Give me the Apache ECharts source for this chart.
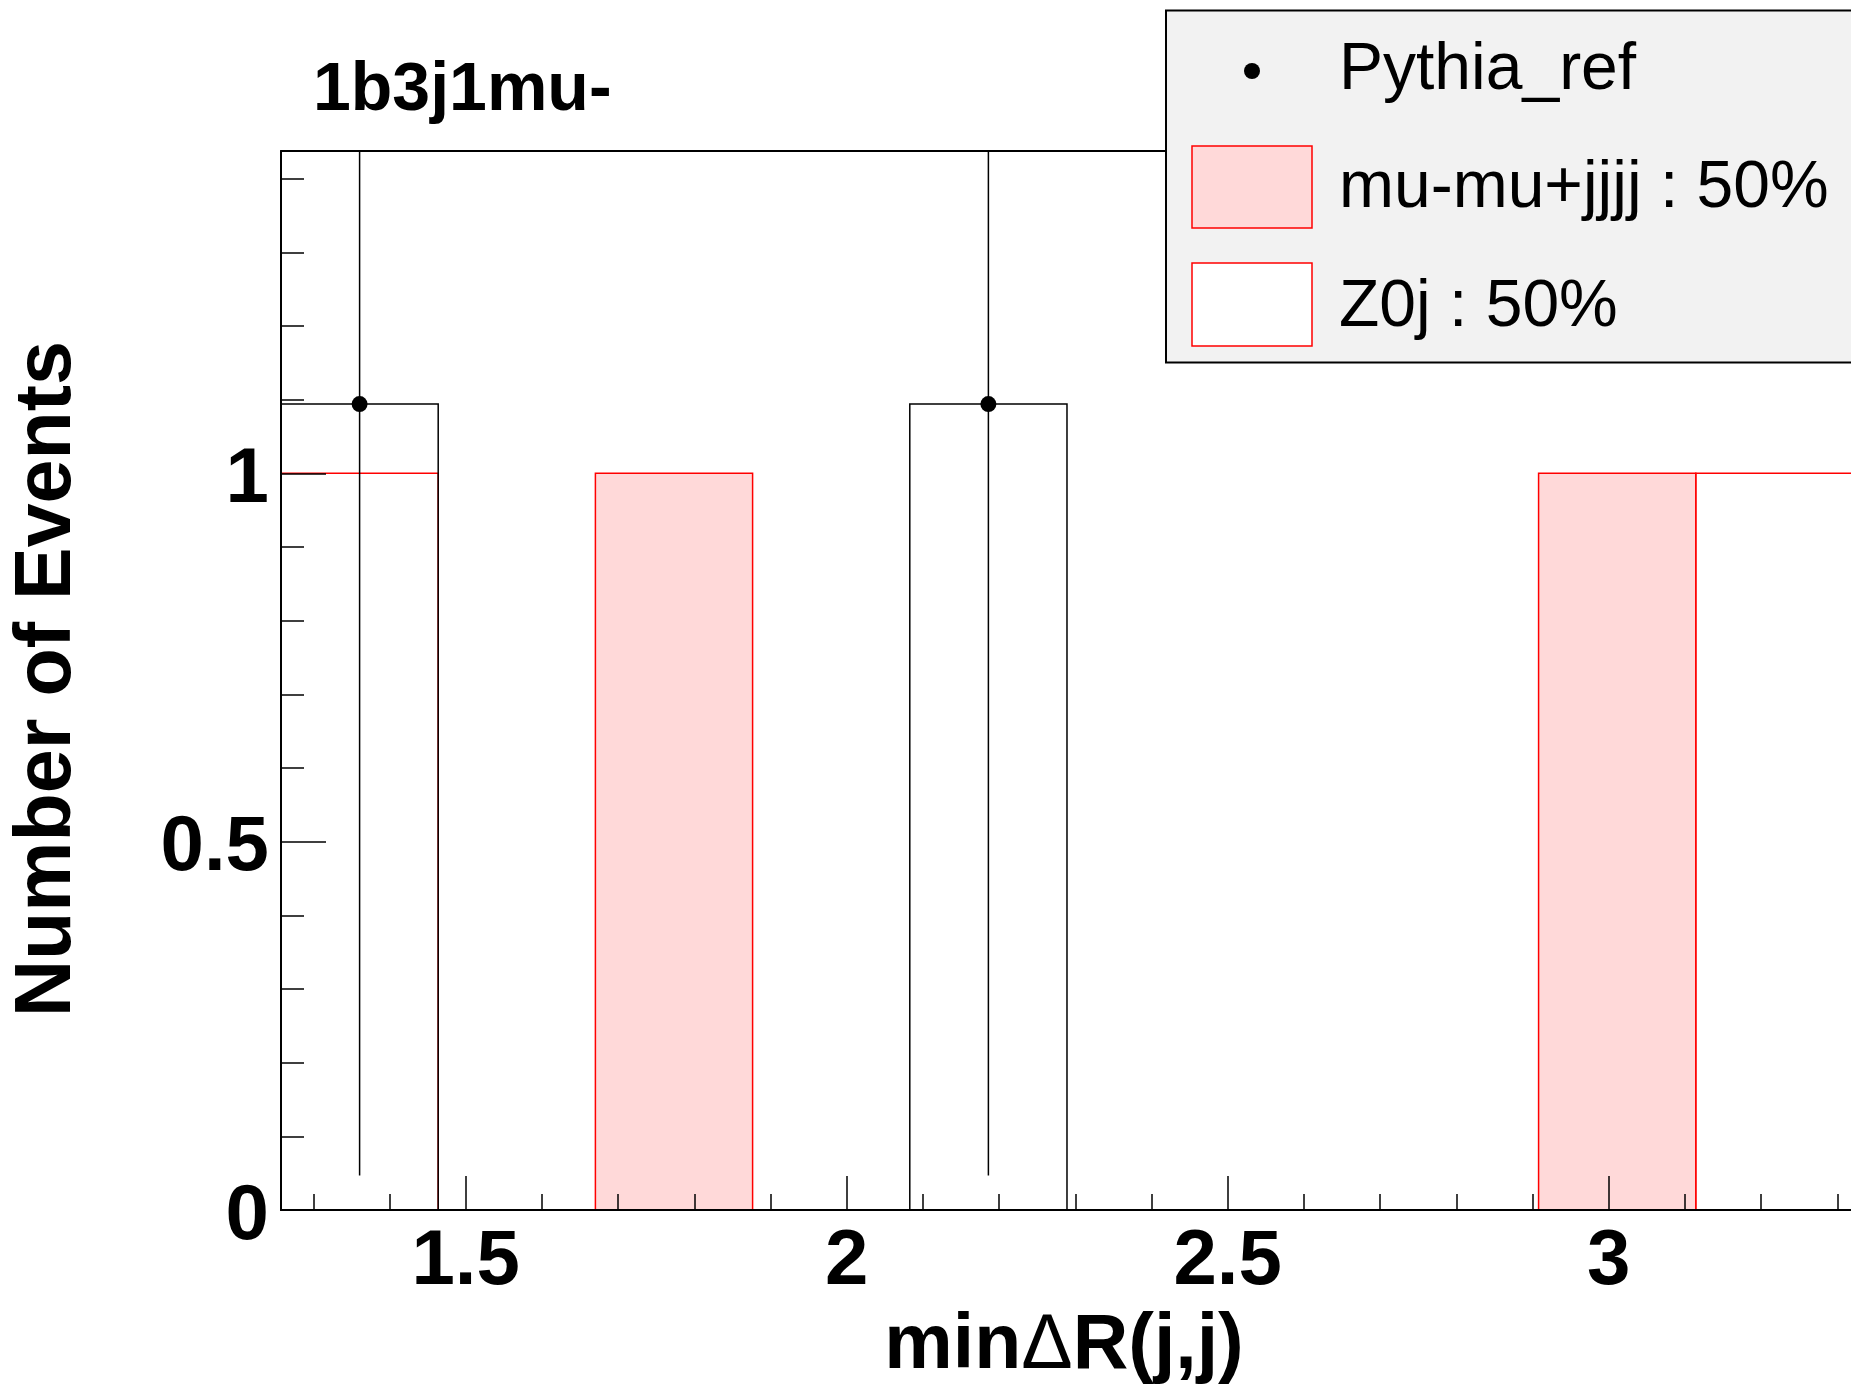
<!DOCTYPE html>
<html>
<head>
<meta charset="utf-8">
<script src="https://cdn.jsdelivr.net/npm/echarts@6/dist/echarts.min.js"></script>
<style>
html,body{margin:0;padding:0;background:#fff;}
#chart{width:1851px;height:1397px;}
</style>
</head>
<body>
<div id="chart"></div>
<script>
// ---- data ----
const chartTitle = '1b3j1mu-';
const xTitle = 'minΔR(j,j)';
const yTitle = 'Number of Events';
const binLow = 1.2576;
const binWidth = 0.2063;
const seriesNames = ['Pythia_ref', 'mu-mu+jjjj : 50%', 'Z0j : 50%'];
const pythiaRef = [1.094, 0, 0, 0, 1.094, 0, 0, 0, 0, 0];
const pythiaErr = [1.047, 0, 0, 0, 1.047, 0, 0, 0, 0, 0];
const muMuJjjj  = [0, 0, 1, 0, 0, 0, 0, 0, 1, 0];
const z0j       = [1, 0, 0, 0, 0, 0, 0, 0, 0, 1];
const xMajorTicks = [1.5, 2, 2.5, 3];
const xMinorTicks = [1.3, 1.4, 1.6, 1.7, 1.8, 1.9, 2.1, 2.2, 2.3, 2.4, 2.6, 2.7, 2.8, 2.9, 3.1, 3.2, 3.3];
const yMajorTicks = [0, 0.5, 1];
const yMinorTicks = [0.1, 0.2, 0.3, 0.4, 0.6, 0.7, 0.8, 0.9, 1.1, 1.2, 1.3, 1.4];
const xMin = 1.2576, xMax = 3.3180;
const yMin = 0, yMax = 1.4375;

// ---- build ----
const FONT = '"Liberation Sans", Arial, Helvetica, sans-serif';
function binData(vals, errs) {
  return vals.map((v, i) => [binLow + i * binWidth, binLow + (i + 1) * binWidth, v, errs ? errs[i] : 0]);
}

function histRender(fill, stroke, lw) {
  return function (params, api) {
    const lo = api.value(0), hi = api.value(1), v = api.value(2);
    if (!v) return null;
    const p0 = api.coord([lo, 0]);
    const p1 = api.coord([hi, v]);
    return {
      type: 'rect',
      shape: { x: p0[0], y: p1[1], width: p1[0] - p0[0], height: p0[1] - p1[1] },
      style: { fill: fill, stroke: stroke, lineWidth: lw }
    };
  };
}

function pointRender(params, api) {
  const lo = api.value(0), hi = api.value(1), v = api.value(2), e = api.value(3);
  if (!v) return null;
  const c = (lo + hi) / 2;
  const top = api.coord([c, v + e]);
  const bot = api.coord([c, Math.max(v - e, 0)]);
  const mid = api.coord([c, v]);
  const cs = params.coordSys;
  const yTop = Math.max(top[1], cs.y);
  return {
    type: 'group',
    children: [
      { type: 'line', shape: { x1: mid[0], y1: yTop, x2: mid[0], y2: bot[1] }, style: { stroke: '#000', lineWidth: 1.5 } },
      { type: 'circle', shape: { cx: mid[0], cy: mid[1], r: 8 }, style: { fill: '#000' } }
    ]
  };
}

const chart = echarts.init(document.getElementById('chart'), null, { renderer: 'canvas', width: 1851, height: 1397 });

const axisBase = { type: 'value', min: xMin, max: xMax, splitLine: { show: false } };
const yBase = { type: 'value', min: yMin, max: yMax, splitLine: { show: false } };

const option = {
  animation: false,
  backgroundColor: '#fff',
  grid: { left: 281, top: 151, right: 0, bottom: 187, show: false, containLabel: false },
  xAxis: [
    Object.assign({}, axisBase, {
      position: 'bottom', z: 5,
      axisLine: { show: true, onZero: false, lineStyle: { color: '#000', width: 2 } },
      axisTick: { show: true, inside: true, length: 34, customValues: xMajorTicks, lineStyle: { color: '#000', width: 1.5 } },
      axisLabel: { show: true, customValues: xMajorTicks, margin: 13, fontSize: 78, fontWeight: 'bold', fontFamily: FONT, color: '#000', lineHeight: 78 }
    }),
    Object.assign({}, axisBase, {
      position: 'bottom', z: 5,
      axisLine: { show: false, onZero: false },
      axisTick: { show: true, inside: true, length: 16, customValues: xMinorTicks, lineStyle: { color: '#000', width: 1.5 } },
      axisLabel: { show: false }
    }),
    Object.assign({}, axisBase, {
      position: 'top', z: 5,
      axisLine: { show: true, onZero: false, lineStyle: { color: '#000', width: 2 } },
      axisTick: { show: false },
      axisLabel: { show: false }
    })
  ],
  yAxis: [
    Object.assign({}, yBase, {
      position: 'left', z: 5,
      axisLine: { show: true, onZero: false, lineStyle: { color: '#000', width: 2 } },
      axisTick: { show: true, inside: true, length: 45, customValues: yMajorTicks, lineStyle: { color: '#000', width: 1.5 } },
      axisLabel: { show: true, customValues: yMajorTicks, margin: 12, fontSize: 78, fontWeight: 'bold', fontFamily: FONT, color: '#000', verticalAlign: 'top', lineHeight: 14 }
    }),
    Object.assign({}, yBase, {
      position: 'left', z: 5,
      axisLine: { show: false, onZero: false },
      axisTick: { show: true, inside: true, length: 23, customValues: yMinorTicks, lineStyle: { color: '#000', width: 1.5 } },
      axisLabel: { show: false }
    })
  ],
  series: [
    { name: seriesNames[2], type: 'custom', xAxisIndex: 0, yAxisIndex: 0, z: 2,
      data: binData(z0j), encode: { x: [0, 1], y: 2 }, renderItem: histRender('#ffffff', '#ff0000', 1.5) },
    { name: seriesNames[1], type: 'custom', xAxisIndex: 0, yAxisIndex: 0, z: 2,
      data: binData(muMuJjjj), encode: { x: [0, 1], y: 2 }, renderItem: histRender('#ffd9d9', '#ff0000', 1.5) },
    { name: seriesNames[0] + ' hist', type: 'custom', xAxisIndex: 0, yAxisIndex: 0, z: 3,
      data: binData(pythiaRef), encode: { x: [0, 1], y: 2 }, renderItem: histRender('rgba(0,0,0,0)', '#000000', 1.5) },
    { name: seriesNames[0], type: 'custom', xAxisIndex: 0, yAxisIndex: 0, z: 4,
      data: binData(pythiaRef, pythiaErr), encode: { x: [0, 1], y: 2 }, renderItem: pointRender }
  ],
  graphic: [
    { type: 'text', x: 313, y: 91, z: 10, style: { text: chartTitle, font: 'bold 68px ' + FONT, fill: '#000', align: 'left', verticalAlign: 'middle' } },
    { type: 'text', x: 1064, y: 1347, z: 10, style: {
        text: '{b|' + xTitle.split('Δ')[0] + '}{d|Δ}{b|' + xTitle.split('Δ')[1] + '}',
        align: 'center', verticalAlign: 'middle', fill: '#000',
        rich: { b: { fontSize: 77, fontWeight: 'bold', fontFamily: FONT, fill: '#000' }, d: { fontSize: 77, fontWeight: 'normal', fontFamily: FONT, fill: '#000' } } } },
    { type: 'text', x: 48, y: 679, rotation: Math.PI / 2, z: 10, style: { text: yTitle, font: 'bold 79px ' + FONT, fill: '#000', align: 'center', verticalAlign: 'middle' } },
    // legend
    { type: 'rect', z: 20, shape: { x: 1166, y: 10.5, width: 700, height: 352 }, style: { fill: '#f2f2f2', stroke: '#000', lineWidth: 2 } },
    { type: 'circle', z: 21, shape: { cx: 1252, cy: 71, r: 8 }, style: { fill: '#000' } },
    { type: 'text', x: 1339, y: 71, z: 21, style: { text: seriesNames[0], font: '66px ' + FONT, fill: '#000', align: 'left', verticalAlign: 'middle' } },
    { type: 'rect', z: 21, shape: { x: 1192, y: 146, width: 120, height: 82 }, style: { fill: '#ffd9d9', stroke: '#ff0000', lineWidth: 1.5 } },
    { type: 'text', x: 1339, y: 189, z: 21, style: { text: seriesNames[1], font: '66px ' + FONT, fill: '#000', align: 'left', verticalAlign: 'middle' } },
    { type: 'rect', z: 21, shape: { x: 1192, y: 263, width: 120, height: 83 }, style: { fill: '#ffffff', stroke: '#ff0000', lineWidth: 1.5 } },
    { type: 'text', x: 1339, y: 308, z: 21, style: { text: seriesNames[2], font: '66px ' + FONT, fill: '#000', align: 'left', verticalAlign: 'middle' } }
  ]
};
chart.setOption(option);
</script>
</body>
</html>
